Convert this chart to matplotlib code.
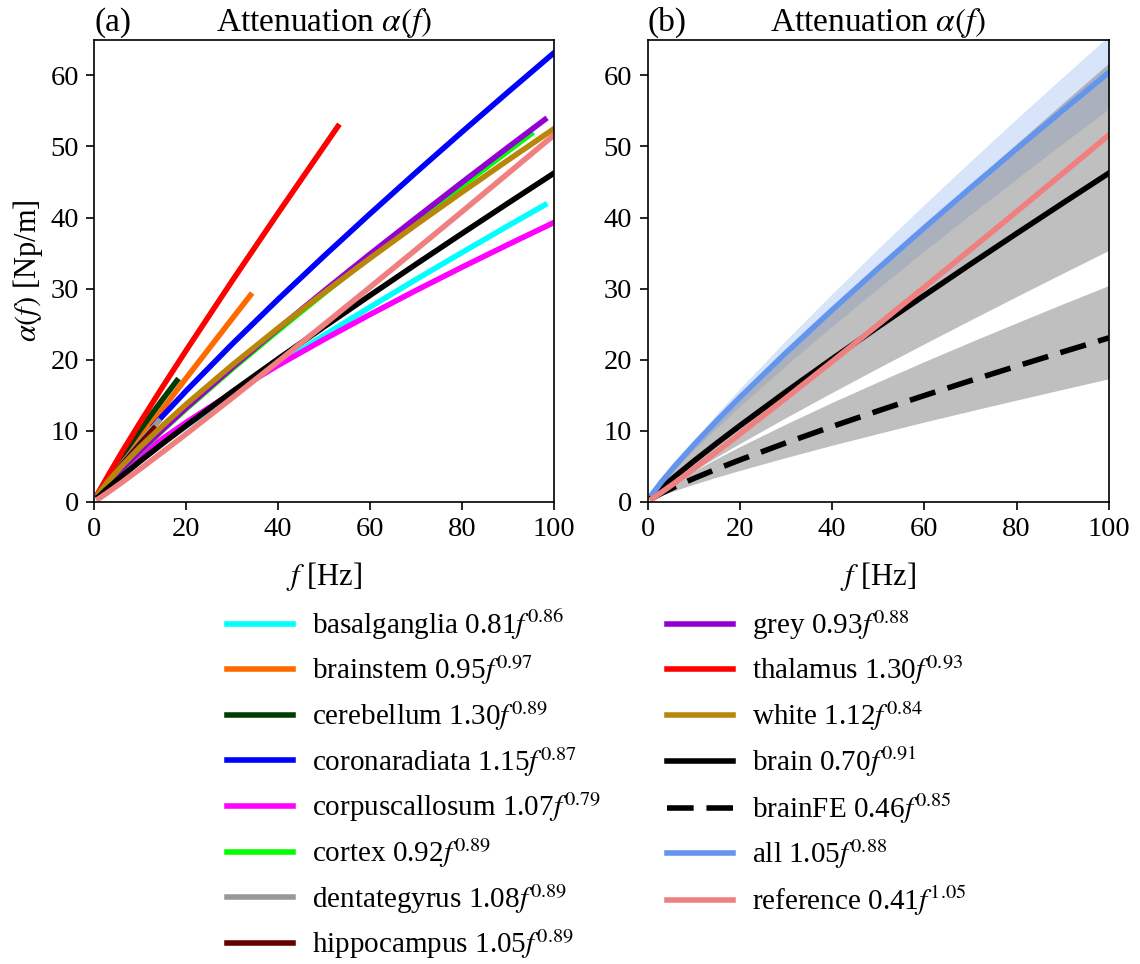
import matplotlib
matplotlib.use("Agg")
import matplotlib.pyplot as plt

plt.rcParams["font.family"] = ["Liberation Serif", "DejaVu Serif"]
plt.rcParams["mathtext.fontset"] = "stix"
plt.rcParams["font.size"] = 21

# ---- panel (a): regional fits ----
REGIONS = ["basalganglia", "brainstem", "cerebellum", "coronaradiata", "corpuscallosum",
           "cortex", "dentategyrus", "hippocampus", "grey", "thalamus", "white"]
COEF = [0.81, 0.95, 1.30, 1.15, 1.07, 0.92, 1.08, 1.05, 0.93, 1.30, 1.12]
EXPO = [0.86, 0.97, 0.89, 0.87, 0.79, 0.89, 0.89, 0.89, 0.88, 0.93, 0.84]
COLORS = ["#00ffff", "#ff6a00", "#003d00", "#0000ff", "#ff00ff",
          "#00ff00", "#999999", "#660000", "#9400d3", "#ff0000", "#b8860b"]

F_REG = [
    [1, 3, 6, 10, 15, 20, 30, 40, 50, 60, 70, 80, 90, 98],       # basalganglia
    [1, 3, 6, 10, 15, 20, 30, 34],                               # brainstem
    [1, 3, 6, 10, 15, 18],                                       # cerebellum
    [13, 15, 20, 30, 40, 50, 60, 70, 80, 90, 100],               # coronaradiata
    [1, 3, 6, 10, 15, 20, 30, 40, 50, 60, 70, 80, 90, 100],      # corpuscallosum
    [1, 3, 6, 10, 15, 20, 30, 40, 50, 60, 70, 80, 90, 95],       # cortex
    [1, 3, 6, 10, 14],                                           # dentategyrus
    [1, 3, 6, 10, 13],                                           # hippocampus
    [1, 3, 6, 10, 15, 20, 30, 40, 50, 60, 70, 80, 90, 98],       # grey
    [1, 3, 6, 10, 15, 20, 30, 40, 53],                           # thalamus
    [1, 3, 6, 10, 15, 20, 30, 40, 50, 60, 70, 80, 90, 100],      # white
]
A_REG = [
    [0.81, 2.08, 3.78, 5.87, 8.32, 10.65, 15.10, 19.33, 23.42, 27.39, 31.28, 35.08, 38.83, 41.78],
    [0.95, 2.76, 5.40, 8.87, 13.14, 17.37, 25.74, 29.06],
    [1.30, 3.46, 6.41, 10.09, 14.48, 17.03],
    [10.71, 12.13, 15.58, 22.17, 28.48, 34.58, 40.53, 46.35, 52.05, 57.66, 63.19],
    [1.07, 2.53, 4.35, 6.49, 8.91, 11.15, 15.32, 19.19, 22.84, 26.35, 29.74, 33.01, 36.19, 39.30],
    [0.92, 2.43, 4.49, 7.06, 10.11, 13.04, 18.67, 24.08, 29.34, 34.48, 39.50, 44.46, 49.35, 51.77],
    [1.08, 2.87, 5.32, 8.38, 11.31],
    [1.05, 2.79, 5.17, 8.15, 10.29],
    [0.93, 2.46, 4.54, 7.14, 10.22, 13.18, 18.87, 24.34, 29.66, 34.86, 39.93, 44.95, 49.89, 53.79],
    [1.30, 3.62, 6.92, 11.14, 16.27, 21.27, 31.06, 40.61, 52.82],
    [1.12, 2.80, 5.00, 7.67, 10.76, 13.69, 19.21, 24.43, 29.42, 34.27, 38.98, 43.57, 48.08, 52.50],
]

# ---- whole-brain fits (both panels) ----
F = [1, 3, 6, 10, 15, 20, 30, 40, 50, 60, 70, 80, 90, 100]
BRAIN = [0.70, 1.90, 3.57, 5.69, 8.23, 10.69, 15.46, 20.09, 24.61, 29.04, 33.43, 37.75, 42.02, 46.25]
BRAIN_LO = [0.54, 1.45, 2.73, 4.35, 6.30, 8.18, 11.83, 15.37, 18.83, 22.22, 25.57, 28.88, 32.15, 35.38]
BRAIN_HI = [0.93, 2.54, 4.77, 7.60, 10.99, 14.27, 20.64, 26.82, 32.85, 38.77, 44.63, 50.40, 56.10, 61.75]
BRAINFE = [0.46, 1.17, 2.11, 3.26, 4.60, 5.87, 8.28, 10.58, 12.79, 14.94, 17.03, 19.07, 21.08, 23.06]
BRAINFE_LO = [0.35, 0.88, 1.58, 2.45, 3.45, 4.40, 6.21, 7.94, 9.59, 11.21, 12.77, 14.30, 15.81, 17.30]
BRAINFE_HI = [0.61, 1.54, 2.79, 4.30, 6.07, 7.75, 10.93, 13.97, 16.88, 19.72, 22.48, 25.17, 27.83, 30.44]
ALL = [1.05, 2.76, 5.08, 7.97, 11.38, 14.66, 20.95, 26.97, 32.83, 38.55, 44.16, 49.67, 55.08, 60.42]
ALL_LO = [0.96, 2.53, 4.65, 7.29, 10.41, 13.41, 19.17, 24.68, 30.04, 35.27, 40.41, 45.45, 50.40, 55.28]
ALL_HI = [1.14, 2.99, 5.51, 8.65, 12.35, 15.91, 22.73, 29.26, 35.62, 41.83, 47.91, 53.89, 59.76, 65.56]
REF = [0.41, 1.30, 2.69, 4.60, 7.04, 9.52, 14.58, 19.72, 24.93, 30.19, 35.49, 40.83, 46.21, 51.61]
FITS = {"brain": (0.70, 0.91), "brainFE": (0.46, 0.85), "all": (1.05, 0.88), "reference": (0.41, 1.05)}

LW = 4


def lab(name, a, b):
    return f"{name} {a:.2f}$f^{{{b:.2f}}}$"


fig = plt.figure(figsize=(11.4, 9.64), dpi=100)
axa = fig.add_axes([0.0825, 0.4796, 0.4035, 0.479])
axb = fig.add_axes([0.568, 0.4796, 0.4047, 0.479])

handles = []
for name, a, b, c, ff, aa in zip(REGIONS, COEF, EXPO, COLORS, F_REG, A_REG):
    h, = axa.plot(ff, aa, color=c, lw=LW, label=lab(name, a, b))
    handles.append(h)

# brain + reference also in (a)
axa.plot(F, BRAIN, color="black", lw=LW)
axa.plot(F, REF, color="lightcoral", lw=LW)

# panel (b)
axb.fill_between(F, ALL_LO, ALL_HI, color="cornflowerblue", alpha=0.25, lw=0)
axb.fill_between(F, BRAIN_LO, BRAIN_HI, color="grey", alpha=0.5, lw=0)
axb.fill_between(F, BRAINFE_LO, BRAINFE_HI, color="grey", alpha=0.5, lw=0)
hb, = axb.plot(F, BRAIN, color="black", lw=LW, label=lab("brain", *FITS["brain"]))
hfe, = axb.plot(F, BRAINFE, color="black", lw=LW, ls=(0, (4.8, 2.3)),
                label=lab("brainFE", *FITS["brainFE"]))
hall, = axb.plot(F, ALL, color="cornflowerblue", lw=LW, label=lab("all", *FITS["all"]))
href, = axb.plot(F, REF, color="lightcoral", lw=LW, label=lab("reference", *FITS["reference"]))
handles += [hb, hfe, hall, href]

for ax, tag in ((axa, "(a)"), (axb, "(b)")):
    ax.set_xlim(0, 100)
    ax.set_ylim(0, 65)
    ax.set_xticks([0, 20, 40, 60, 80, 100])
    ax.set_yticks([0, 10, 20, 30, 40, 50, 60])
    ax.set_xlabel("$f$ [Hz]", fontsize=22, labelpad=13)
    ax.set_title("Attenuation $\\alpha(f)$", fontsize=24, pad=6)
    ax.set_title(tag, loc="left", fontsize=24, pad=6)
    ax.tick_params(length=6, width=1.2, labelsize=20.5, pad=5)
    for s in ax.spines.values():
        s.set_linewidth(1.2)
axa.set_ylabel("$\\alpha(f)$ [Np/m]", fontsize=22)

fig.legend(handles=handles, labels=[h.get_label() for h in handles],
           ncol=2, loc="upper left", bbox_to_anchor=(0.199, 0.370), frameon=False,
           borderpad=0, borderaxespad=0, fontsize=21, handlelength=2.26,
           handletextpad=0.65, columnspacing=2.25, labelspacing=0.41)

fig.savefig("out.png", dpi=100)
